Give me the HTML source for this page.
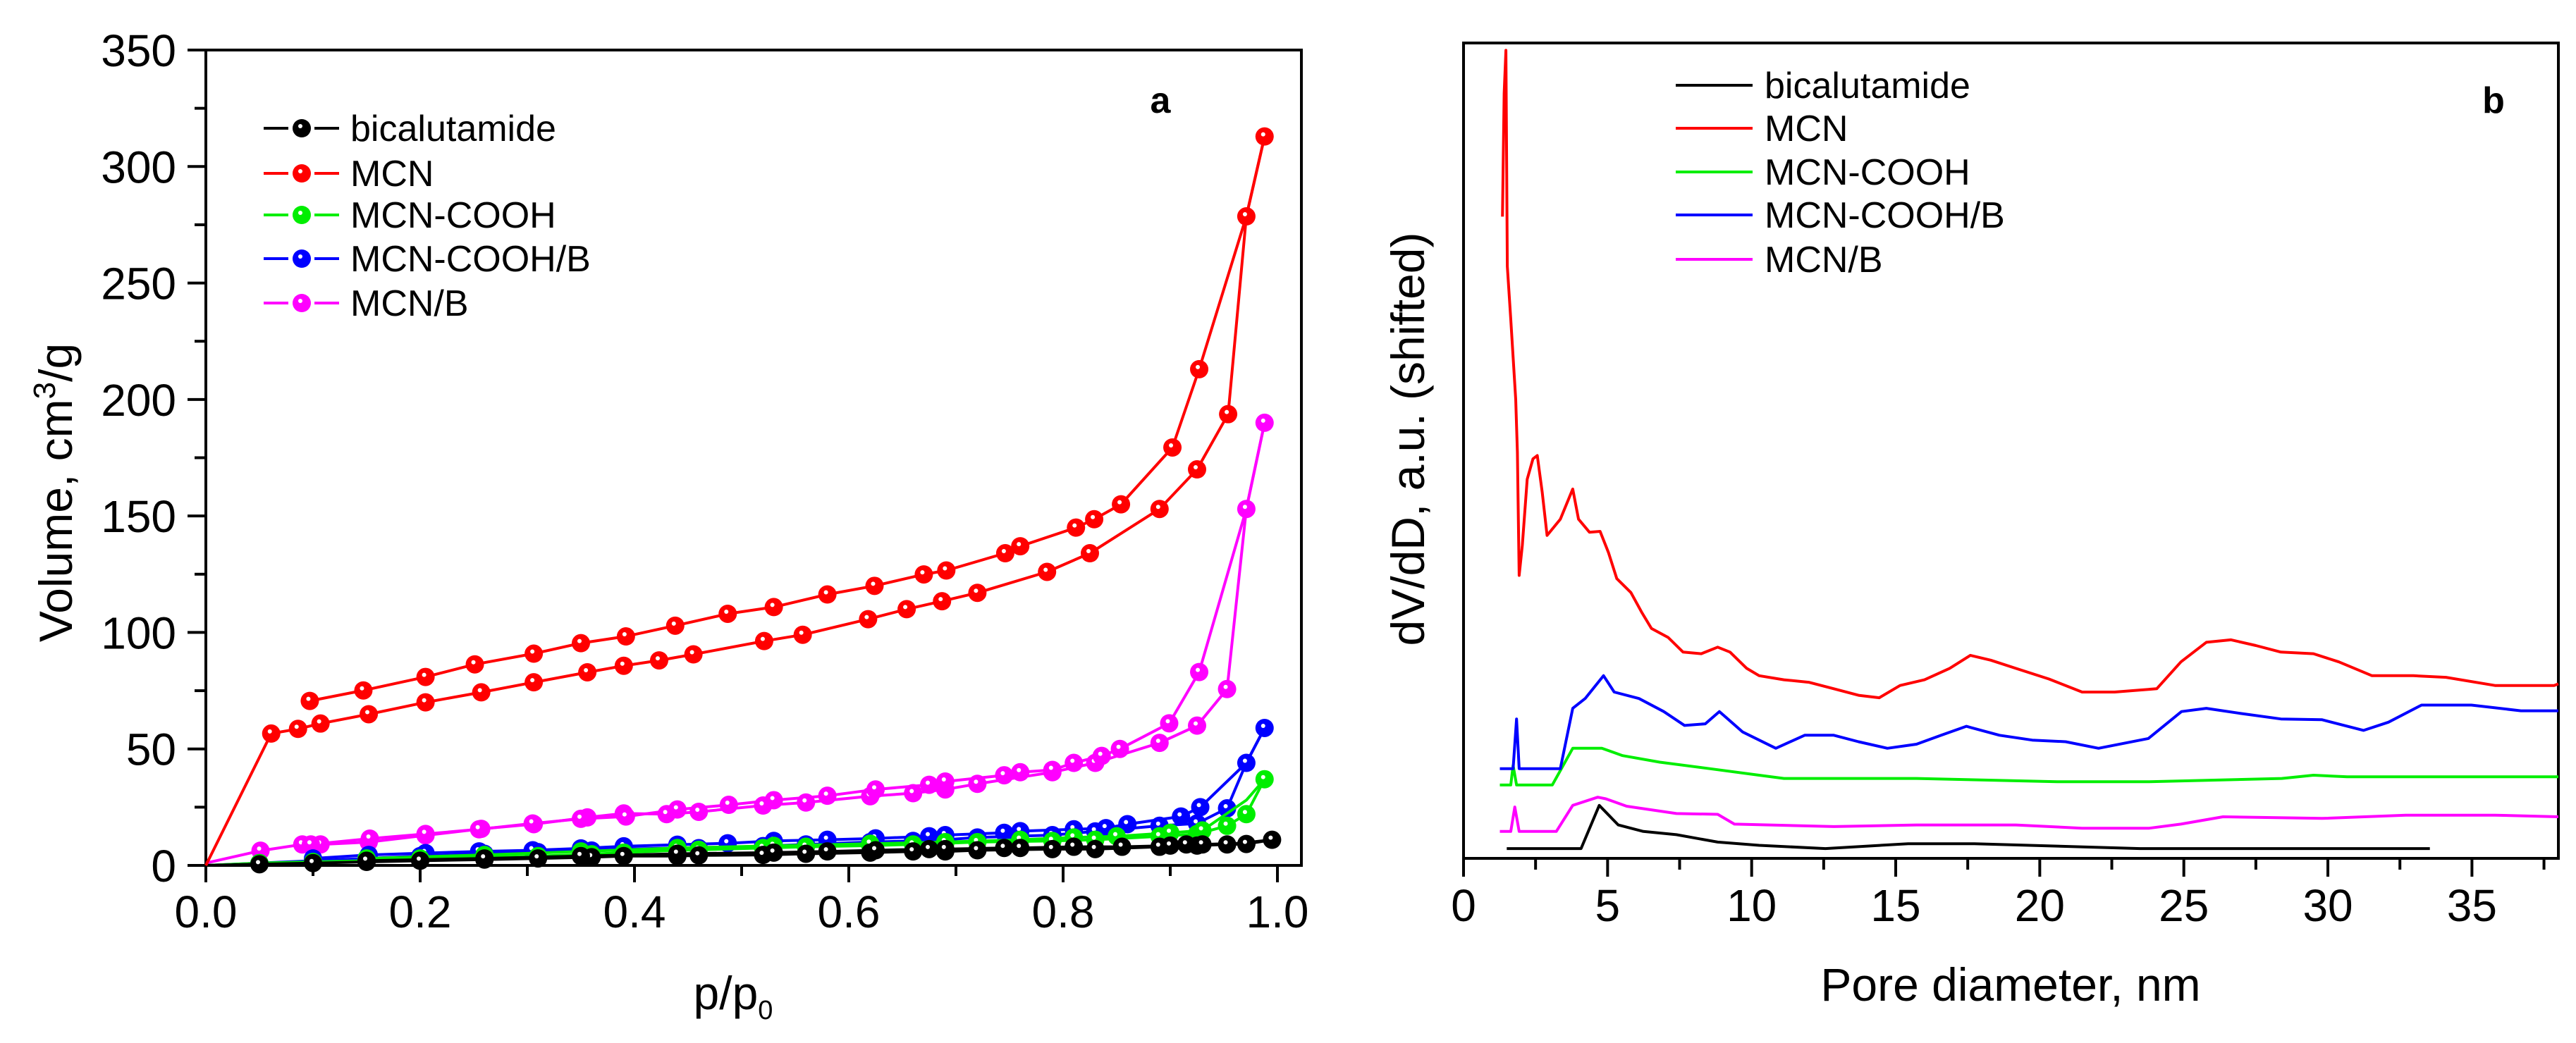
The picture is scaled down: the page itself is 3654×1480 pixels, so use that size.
<!DOCTYPE html>
<html><head><meta charset="utf-8"><style>
html,body{margin:0;padding:0;background:#fff;}
svg{display:block;font-family:"Liberation Sans",Arial,sans-serif;}
</style></head><body>
<svg id="fig" width="3654" height="1480" viewBox="0 0 3654 1480" xmlns="http://www.w3.org/2000/svg">
<rect x="0" y="0" width="3654" height="1480" fill="#fff"/>
<g id="chartA"></g>
<g id="chartB"></g>
</svg>
<script>
// ---------- Chart A data (p/p0, volume cm3/g) ----------
const seriesNamesA = ["bicalutamide","MCN","MCN-COOH","MCN-COOH/B","MCN/B"];
const seriesColorsA = ["#000000","#ff0000","#00ee00","#0000ff","#ff00ff"];
const xTicksA = [0,0.2,0.4,0.6,0.8,1.0];
const xTickLabelsA = ["0.0","0.2","0.4","0.6","0.8","1.0"];
const yTicksA = [0,50,100,150,200,250,300,350];
const yTickLabelsA = ["0","50","100","150","200","250","300","350"];

const bicalAdsX = [0,0.05,0.1,0.15,0.2,0.26,0.31,0.36,0.39,0.44,0.46,0.52,0.56,0.62,0.66,0.69,0.72,0.79,0.83,0.89,0.925,0.953,0.971,0.995];
const bicalAdsY = [0,0.5,1,1.5,2,2.5,3,3.5,4,4,4.3,4.5,5,5.5,6,6,6.5,7,7,8,8.5,9,9.2,11];
const bicalDesX = [0.995,0.965,0.93,0.915,0.9,0.855,0.81,0.76,0.745,0.69,0.675,0.625,0.58,0.53,0.44,0.35,0.26,0.15];
const bicalDesY = [11,9.5,9,9,8.5,8,8,7.5,7.5,7,7,6.5,6,5.5,5,4,3,2];

const mcnAdsX = [0,0.061,0.086,0.107,0.152,0.205,0.257,0.306,0.356,0.39,0.423,0.455,0.521,0.557,0.618,0.654,0.687,0.72,0.785,0.825,0.89,0.925,0.954,0.971,0.988];
const mcnAdsY = [0,56.6,58.6,60.9,64.9,70,74.3,78.6,82.9,85.7,88,90.6,96.3,99,105.7,110,113.4,117,126,134,153,170,193.7,278.6,312.9];
const mcnDesX = [0.988,0.971,0.927,0.902,0.854,0.829,0.812,0.76,0.746,0.691,0.67,0.624,0.58,0.53,0.487,0.438,0.392,0.35,0.306,0.251,0.205,0.147,0.097];
const mcnDesY = [312.9,278.6,213,179.4,155,148.6,145,137,134,126.6,124.9,120,116.3,110.9,108,102.9,98.3,95.4,90.9,86.3,80.9,75.1,70.6];

const coohAdsX = [0,0.05,0.1,0.15,0.2,0.26,0.31,0.36,0.39,0.44,0.46,0.52,0.56,0.62,0.66,0.69,0.72,0.79,0.83,0.89,0.925,0.953,0.971,0.988];
const coohAdsY = [0,1,1.5,2,3,3.5,4,4.8,5.5,6.5,6.7,7.5,8,8.5,9,9.5,10,10.5,11,12.5,13.5,17,22,37];
const coohDesX = [0.988,0.971,0.93,0.9,0.85,0.81,0.76,0.69,0.62,0.53,0.44,0.35,0.26,0.15];
const coohDesY = [37,28,15,14,12.5,12,11,10,9.3,8.4,7.5,6,4.5,3];

const coohBAdsX = [0,0.05,0.1,0.15,0.2,0.26,0.31,0.36,0.39,0.44,0.46,0.52,0.56,0.62,0.66,0.69,0.72,0.79,0.83,0.89,0.925,0.953,0.971,0.988];
const coohBAdsY = [0,1,2,3,4,5,5.7,6.4,7,7.5,7.4,8.3,9,10,10.5,11,12,13,14.6,17,18,24.5,44,59];
const coohBDesX = [0.988,0.971,0.928,0.91,0.86,0.84,0.81,0.76,0.745,0.69,0.675,0.625,0.58,0.53,0.487,0.44,0.39,0.35,0.305,0.255,0.205,0.152,0.1];
const coohBDesY = [59,44,25,21,17.7,16,15.5,14.7,14,13,12.5,11.6,11,10.5,9.5,8.9,8.2,7.3,6.5,6,5.3,4.5,3];

const mcnBAdsX = [0,0.051,0.09,0.107,0.152,0.205,0.257,0.306,0.356,0.39,0.43,0.46,0.52,0.56,0.62,0.66,0.69,0.72,0.79,0.83,0.89,0.925,0.953,0.971,0.988];
const mcnBAdsY = [1,6.3,9,9,10,12.9,15.7,17.7,20.6,22.3,22,23,25.7,27,29.7,31,32.6,35,40,44,52.6,60,75.7,153,190];
const mcnBDesX = [0.988,0.971,0.927,0.899,0.853,0.836,0.81,0.79,0.76,0.745,0.69,0.675,0.625,0.58,0.53,0.488,0.44,0.392,0.35,0.305,0.255,0.205,0.153,0.098];
const mcnBDesY = [190,153,83,61,50,47,44,41,40,38.7,36,34.6,32.6,29.9,28,26,24,21,20,18,15.5,13.5,11.5,9];

// ---------- Chart B data (pore diameter nm, dV/dD shifted a.u.) ----------
const seriesNamesB = ["bicalutamide","MCN","MCN-COOH","MCN-COOH/B","MCN/B"];
const seriesColorsB = ["#000000","#ff0000","#00ee00","#0000ff","#ff00ff"];
const xTicksB = [0,5,10,15,20,25,30,35];
const xTickLabelsB = ["0","5","10","15","20","25","30","35"];

const bicalPsdX = [1.5,4.08,4.71,5.37,6.24,7.39,8.82,10.26,12.56,15.43,17.73,23.48,33.54];
const bicalPsdY = [1.2,1.2,6.5,4.1,3.3,2.9,2.0,1.6,1.2,1.8,1.8,1.2,1.2];
const mcnPsdX = [1.35,1.41,1.47,1.52,1.64,1.81,1.87,1.93,2.04,2.21,2.41,2.56,2.73,2.9,3.36,3.79,3.99,4.37,4.74,5.03,5.32,5.81,6.18,6.52,7.1,7.62,8.25,8.82,9.25,9.83,10.26,11.12,11.98,12.85,13.71,14.43,15.15,16.0,16.87,17.59,18.3,19.17,20.32,21.47,22.6,24.06,24.9,25.78,26.64,27.5,28.37,29.5,30.38,31.53,32.97,34.1,35.8,37.85,38.3];
const mcnPsdY = [78.7,93.8,99.1,72.6,66.1,56.3,49.8,34.7,38.4,46.5,49,49.4,44.9,39.6,41.6,45.3,41.6,40,40.1,37.5,34.3,32.6,30.2,28.2,27.1,25.3,25.1,25.9,25.3,23.3,22.4,21.9,21.6,20.8,20,19.7,21.2,21.9,23.3,24.9,24.3,23.3,22,20.4,20.4,20.8,24.1,26.5,26.8,26.1,25.3,25.1,24.1,22.4,22.4,22.2,21.2,21.2,21.4];
const coohPsdX = [1.26,1.64,1.72,1.84,3.08,3.79,4.8,5.52,6.81,8.54,10.26,11.12,15.72,20.6,23.8,28.4,29.5,30.67,38.3];
const coohPsdY = [9,9,11.4,9,9,13.5,13.5,12.6,11.8,11,10.2,9.8,9.8,9.4,9.4,9.8,10.2,10,10];
const coohBPsdX = [1.26,1.72,1.84,1.93,3.36,3.79,4.22,4.86,5.23,6.09,6.95,7.67,8.39,8.88,9.69,10.84,11.84,12.85,13.71,14.71,15.72,16.58,17.45,18.6,19.74,20.9,22.04,23.77,24.92,25.78,26.93,28.37,29.8,31.24,32.1,33.25,34.98,36.7,38.3];
const coohBPsdY = [11,11,17.1,11,11,18.4,19.6,22.4,20.4,19.6,18,16.3,16.5,18,15.5,13.5,15.1,15.1,14.3,13.5,14,15.1,16.2,15.1,14.5,14.3,13.5,14.7,18,18.4,17.8,17.1,17,15.7,16.7,18.8,18.8,18.1,18.1];
const mcnBPsdX = [1.26,1.64,1.78,1.93,3.22,3.79,4.66,4.94,5.66,7.39,8.82,9.4,12.85,15.72,19.17,21.47,23.8,24.9,26.36,29.8,32.7,35.8,38.3];
const mcnBPsdY = [3.3,3.3,6.3,3.3,3.3,6.5,7.5,7.3,6.4,5.5,5.4,4.2,3.9,4.1,4.1,3.7,3.7,4.2,5.1,4.9,5.3,5.3,5.1];

// ---------- helpers ----------
const NS = "http://www.w3.org/2000/svg";
function el(parent, tag, attrs, text){
  const e = document.createElementNS(NS, tag);
  for (const k in attrs) e.setAttribute(k, attrs[k]);
  if (text !== undefined) e.textContent = text;
  parent.appendChild(e);
  return e;
}
const A = {x0:292, x1:1812, y0:1228, y1:71, right:1846, xmin:0, xmax:1, ymin:0, ymax:350};
function ax(v){ return A.x0 + (v - A.xmin) / (A.xmax - A.xmin) * (A.x1 - A.x0); }
function ay(v){ return A.y0 - (v - A.ymin) / (A.ymax - A.ymin) * (A.y0 - A.y1); }
const B = {x0:2076, x1:3629, y0:1218, y1:61, xmin:0, xmax:38, ymin:0, ymax:100};
function bx(v){ return B.x0 + (v - B.xmin) / (B.xmax - B.xmin) * (B.x1 - B.x0); }
function by(v){ return B.y0 - (v - B.ymin) / (B.ymax - B.ymin) * (B.y0 - B.y1); }

// ---------- Chart A ----------
const gA = document.getElementById('chartA');
const frameA = el(gA,'rect',{x:A.x0,y:A.y1,width:A.right-A.x0,height:A.y0-A.y1,fill:'none',stroke:'#000','stroke-width':4});



yTicksA.forEach((t,i)=>{
  const y = ay(t);
  const tk = el(gA,'line',{x1:A.x0-26,y1:y,x2:A.x0,y2:y,stroke:'#000','stroke-width':4});
  
  
  const lb = el(gA,'text',{x:250,y:y+23,'font-size':64,'text-anchor':'end',fill:'#000'}, yTickLabelsA[i]);
  
  
  if (i < yTicksA.length-1){
    const ym = ay(t+25);
    const mt = el(gA,'line',{x1:A.x0-16,y1:ym,x2:A.x0,y2:ym,stroke:'#000','stroke-width':4});
    
    
  }
});
xTicksA.forEach((t,i)=>{
  const x = ax(t);
  const tk = el(gA,'line',{x1:x,y1:A.y0,x2:x,y2:A.y0+24,stroke:'#000','stroke-width':4});
  
  
  const lb = el(gA,'text',{x:x,y:1316,'font-size':64,'text-anchor':'middle',fill:'#000'}, xTickLabelsA[i]);
  
  
  if (i < xTicksA.length-1){
    const xm = ax(t+0.1);
    const mt = el(gA,'line',{x1:xm,y1:A.y0,x2:xm,y2:A.y0+15,stroke:'#000','stroke-width':4});
    
    
  }
});
const yTitleA = el(gA,'text',{x:0,y:0,'font-size':66,'text-anchor':'middle',fill:'#000',transform:'translate(102,699) rotate(-90)'});


el(yTitleA,'tspan',{},'Volume, cm');
el(yTitleA,'tspan',{dy:-24,'font-size':44},'3');
el(yTitleA,'tspan',{dy:24},'/g');
const xTitleA = el(gA,'text',{x:1040,y:1432,'font-size':66,'text-anchor':'middle',fill:'#000'});


el(xTitleA,'tspan',{},'p/p');
el(xTitleA,'tspan',{dy:14,'font-size':38},'0');
const panelA = el(gA,'text',{x:1646,y:160,'font-size':52,'font-weight':'bold','text-anchor':'middle',fill:'#000'},'a');



const seriesA = [
  [bicalAdsX,bicalAdsY,bicalDesX,bicalDesY],
  [mcnAdsX,mcnAdsY,mcnDesX,mcnDesY],
  [coohAdsX,coohAdsY,coohDesX,coohDesY],
  [coohBAdsX,coohBAdsY,coohBDesX,coohBDesY],
  [mcnBAdsX,mcnBAdsY,mcnBDesX,mcnBDesY]
];
function marker(g, x, y, color){
  const c = el(g,'circle',{cx:x,cy:y,r:13,fill:color});
  
  
  const h = el(g,'circle',{cx:x-2,cy:y-3,r:3,fill:'#fff'});
  
  
}
[4,3,2,0,1].forEach(si=>{
  const [axs,ays,dxs,dys] = seriesA[si];
  const g = el(gA,'g',{});
  
  
  [[axs,ays,'adsorption'],[dxs,dys,'desorption']].forEach(([xs,ys,nm])=>{
    const pts = xs.map((v,i)=>ax(v).toFixed(1)+','+ay(ys[i]).toFixed(1)).join(' ');
    const pl = el(g,'polyline',{points:pts,fill:'none',stroke:seriesColorsA[si],'stroke-width':4,'stroke-linejoin':'round'});
    
    
  });
  axs.forEach((v,i)=>{ if(i>0) marker(g, ax(v), ay(ays[i]), seriesColorsA[si]); });
  dxs.forEach((v,i)=>{ if(i>1) marker(g, ax(v), ay(dys[i]), seriesColorsA[si]); });
});
const legYA = [182,246,305,367,430];
seriesNamesA.forEach((n,i)=>{
  const g = el(gA,'g',{});
  
  
  const y = legYA[i];
  el(g,'line',{x1:374,y1:y,x2:409,y2:y,stroke:seriesColorsA[i],'stroke-width':4});
  el(g,'line',{x1:446,y1:y,x2:481,y2:y,stroke:seriesColorsA[i],'stroke-width':4});
  marker(g,428,y,seriesColorsA[i]);
  const t = el(g,'text',{x:497,y:y+18,'font-size':52,fill:'#000'},n);
  
  
});

// ---------- Chart B ----------
const gB = document.getElementById('chartB');
const frameB = el(gB,'rect',{x:B.x0,y:B.y1,width:B.x1-B.x0,height:B.y0-B.y1,fill:'none',stroke:'#000','stroke-width':4});


xTicksB.forEach((t,i)=>{
  const x = bx(t);
  const tk = el(gB,'line',{x1:x,y1:B.y0,x2:x,y2:B.y0+26,stroke:'#000','stroke-width':4});
  
  
  const lb = el(gB,'text',{x:x,y:1307,'font-size':64,'text-anchor':'middle',fill:'#000'},xTickLabelsB[i]);
  
  
  const xm = bx(t+2.5);
  if (t+2.5 <= B.xmax){
    const mt = el(gB,'line',{x1:xm,y1:B.y0,x2:xm,y2:B.y0+16,stroke:'#000','stroke-width':4});
    
    
  }
});
const yTitleB = el(gB,'text',{x:0,y:0,'font-size':66,'text-anchor':'middle',fill:'#000',transform:'translate(2020,623) rotate(-90)'},'dV/dD, a.u. (shifted)');


const xTitleB = el(gB,'text',{x:2852,y:1420,'font-size':66,'text-anchor':'middle',fill:'#000'},'Pore diameter, nm');


const panelB = el(gB,'text',{x:3537,y:160,'font-size':52,'font-weight':'bold','text-anchor':'middle',fill:'#000'},'b');



const seriesB = [[bicalPsdX,bicalPsdY],[mcnPsdX,mcnPsdY],[coohPsdX,coohPsdY],[coohBPsdX,coohBPsdY],[mcnBPsdX,mcnBPsdY]];
seriesB.forEach(([xs,ys],si)=>{
  const pts = xs.map((v,i)=>bx(Math.min(v,B.xmax)).toFixed(1)+','+by(ys[i]).toFixed(1)).join(' ');
  const pl = el(gB,'polyline',{points:pts,fill:'none',stroke:seriesColorsB[si],'stroke-width':4,'stroke-linejoin':'round'});
  
  
});
const legYB = [121,182,244,305,368];
seriesNamesB.forEach((n,i)=>{
  const g = el(gB,'g',{});
  
  
  const y = legYB[i];
  el(g,'line',{x1:2377,y1:y,x2:2486,y2:y,stroke:seriesColorsB[i],'stroke-width':4});
  const t = el(g,'text',{x:2503,y:y+18,'font-size':52,fill:'#000'},n);
  
  
});
</script>
</body></html>
